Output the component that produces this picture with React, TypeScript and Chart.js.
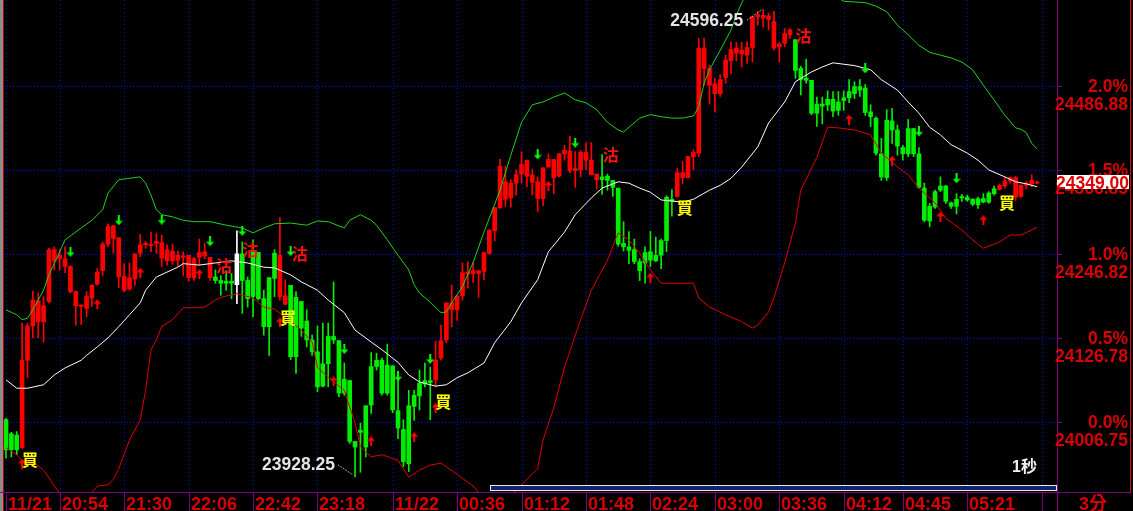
import React, { useEffect, useRef } from "react";
import { Chart, registerables } from "chart.js";

Chart.register(...registerables);

// ---- candles (3-minute bars, 11/21 20:24 -> 11/22 06:00) ----
const openP = [
  24010,23990,23988,23970,24095,24144,24150,24150,24179,24237,
  24240,24229,24193,24173,24172,24169,24184,24204,24223,24261,
  24269,24214,24195,24197,24211,24248,24260,24259,24262,24241,
  24237,24237,24238,24242,24213,24213,24242,24244,24213,24214,
  24209,24208,24208,24203,24247,24209,24252,24249,24183,24213,
  24248,24186,24175,24202,24185,24179,24151,24124,24107,24090,
  24129,24129,24123,24068,24066,23979,23995,24030,24086,24095,
  24095,24088,24087,24023,23996,24030,24045,24062,24066,24066,
  24067,24098,24124,24167,24167,24187,24218,24219,24219,24222,
  24248,24280,24313,24325,24327,24348,24361,24358,24349,24326,
  24326,24371,24356,24358,24390,24366,24366,24367,24381,24360,
  24353,24357,24358,24352,24341,24262,24257,24253,24236,24249,
  24250,24245,24266,24328,24325,24329,24356,24356,24386,24391,
  24512,24488,24476,24476,24499,24523,24534,24533,24531,24542,
  24586,24584,24582,24541,24543,24548,24560,24553,24512,24498,
  24495,24461,24461,24468,24468,24464,24470,24479,24486,24486,
  24484,24450,24441,24390,24438,24437,24424,24399,24426,24426,
  24390,24341,24315,24336,24344,24344,24320,24325,24329,24328,
  24325,24326,24326,24334,24340,24339,24344,24351,24328,24329,
  24345,24347,24348,
];
const highP = [
  24012,23992,23993,24148,24148,24194,24191,24186,24255,24257,
  24253,24257,24230,24194,24174,24193,24203,24226,24264,24290,
  24288,24270,24233,24234,24247,24275,24265,24278,24276,24274,
  24260,24261,24251,24250,24245,24242,24268,24262,24242,24224,
  24216,24223,24219,24280,24264,24214,24267,24249,24195,24213,
  24253,24299,24210,24202,24193,24179,24167,24131,24144,24148,
  24148,24207,24123,24091,24066,23979,24005,24030,24106,24105,
  24098,24118,24087,24079,24010,24052,24052,24081,24091,24085,
  24122,24145,24177,24202,24187,24234,24236,24235,24223,24249,
  24281,24313,24382,24372,24353,24367,24393,24381,24368,24357,
  24370,24390,24382,24390,24402,24415,24393,24395,24406,24406,
  24361,24389,24361,24352,24341,24293,24279,24268,24240,24257,
  24279,24271,24268,24330,24339,24369,24379,24386,24396,24555,
  24555,24517,24498,24503,24531,24550,24549,24549,24550,24586,
  24593,24596.25,24591,24594,24549,24569,24569,24553,24515,24525,
  24495,24471,24471,24480,24479,24479,24480,24496,24493,24496,
  24489,24460,24443,24412,24453,24455,24431,24402,24439,24426,
  24399,24348,24319,24338,24357,24345,24321,24333,24332,24331,
  24326,24328,24333,24336,24344,24347,24357,24357,24358,24346,
  24351,24360,24351,
];
const lowP = [
  23955,23957,23960,23969,24070,24127,24127,24121,24177,24224,
  24224,24220,24191,24145,24146,24157,24172,24202,24216,24257,
  24248,24199,24193,24195,24202,24243,24255,24250,24248,24229,
  24231,24232,24229,24216,24208,24209,24231,24240,24209,24205,
  24188,24195,24183,24176,24162,24171,24157,24181,24131,24102,
  24186,24181,24174,24096,24076,24129,24114,24102,24050,24057,
  24057,24119,24043,24045,23976,23928.25,23935,23957,24019,24081,
  24045,24045,24020,23983,23943,23936,24009,24024,24057,24010,
  24057,24095,24120,24143,24152,24181,24198,24206,24185,24210,
  24246,24266,24312,24315,24314,24331,24348,24343,24331,24307,
  24316,24371,24333,24357,24381,24363,24342,24357,24367,24360,
  24340,24332,24338,24329,24258,24251,24233,24233,24209,24205,
  24229,24236,24226,24250,24301,24328,24347,24355,24367,24386,
  24488,24461,24450,24472,24491,24504,24523,24514,24519,24521,
  24574,24571,24567,24538,24521,24543,24555,24498,24474,24491,
  24446,24429,24433,24452,24443,24445,24452,24463,24469,24472,
  24445,24429,24388,24352,24352,24405,24388,24381,24386,24386,
  24341,24293,24286,24312,24336,24319,24312,24304,24322,24322,
  24316,24312,24320,24319,24331,24338,24341,24348,24323,24328,
  24340,24343,24347,
];
const closeP = [
  23967,23967,23967,24095,24144,24181,24180,24173,24253,24253,
  24245,24240,24229,24193,24174,24186,24202,24221,24261,24286,
  24287,24270,24215,24213,24247,24260,24262,24261,24265,24263,
  24253,24251,24245,24244,24245,24240,24249,24250,24242,24209,
  24205,24205,24205,24247,24209,24183,24186,24183,24143,24143,
  24212,24245,24187,24100,24100,24141,24124,24107,24057,24058,
  24090,24124,24048,24048,23979,23971,23992,23971,24031,24086,
  24048,24048,24024,23998,23950,23947,24029,24044,24061,24063,
  24095,24123,24177,24177,24187,24220,24221,24223,24223,24249,
  24281,24313,24372,24350,24348,24360,24375,24381,24360,24350,
  24370,24382,24382,24390,24395,24394,24369,24392,24392,24381,
  24361,24353,24352,24342,24261,24257,24252,24236,24223,24234,
  24238,24237,24245,24266,24322,24363,24363,24386,24392,24541,
  24541,24512,24490,24496,24524,24539,24541,24538,24542,24586,
  24589,24588,24587,24579,24547,24562,24567,24509,24496,24495,
  24448,24448,24458,24460,24451,24452,24466,24470,24476,24481,
  24449,24443,24391,24357,24356,24424,24401,24390,24390,24390,
  24342,24295,24294,24314,24338,24322,24315,24315,24327,24324,
  24318,24317,24321,24321,24333,24345,24351,24356,24356,24345,
  24348,24352,24349,
];
const highlightBar = 43;
const lastPrice = 24349.0;

// ---- Bollinger bands (sampled bar index / value) ----
const upperIdx = [0,2,3,4,5,7,8,10,11,14,16,18,19,21,23,25,26,27,28,29,31,33,35,38,41,44,46,48,50,53,56,58,60,62,63,64,66,68,69,71,73,75,76,77,79,81,82,83,85,87,89,92,94,96,98,100,102,104,106,108,110,112,114,115,116,118,120,122,124,126,128,129,130,131,133,135,136,137,139,142,145,148,151,154,156,158,160,162,164,166,168,170,172,174,176,178,180,182,184,186,188,189,190,191,192];
const upperVal = [24167,24160,24153,24155,24167,24195,24217,24250,24267,24284,24295,24310,24334,24353,24355,24357,24348,24331,24310,24303,24300,24295,24293,24293,24288,24284,24277,24284,24290,24291,24288,24294,24293,24287,24284,24295,24303,24295,24288,24267,24245,24224,24203,24191,24178,24163,24164,24177,24200,24235,24278,24338,24388,24435,24460,24464,24471,24477,24467,24463,24453,24435,24424,24421,24428,24441,24446,24443,24441,24441,24444,24457,24491,24510,24538,24567,24588,24606,24631,24660,24674,24674,24653,24617,24608,24607,24606,24601,24593,24574,24560,24545,24535,24531,24527,24521,24510,24488,24467,24445,24427,24425,24420,24405,24397];
const midIdx = [0,2,4,7,9,11,14,15,17,19,21,23,25,26,28,30,32,33,36,39,42,45,48,50,53,55,58,60,63,65,68,70,73,75,77,80,82,84,86,89,91,94,96,99,101,104,106,109,111,114,116,118,120,122,126,128,131,133,135,137,140,142,145,147,150,152,154,156,158,161,163,166,168,170,172,174,176,179,181,183,186,188,190,192];
const midVal = [24067,24055,24055,24060,24074,24084,24095,24102,24114,24127,24143,24160,24177,24195,24214,24221,24228,24233,24231,24234,24237,24234,24228,24227,24217,24207,24195,24181,24163,24138,24121,24110,24092,24074,24064,24058,24060,24070,24077,24091,24120,24150,24177,24210,24250,24278,24303,24327,24341,24350,24348,24341,24335,24324,24321,24325,24338,24345,24355,24371,24400,24434,24464,24493,24507,24514,24520,24518,24516,24510,24496,24481,24464,24448,24428,24417,24403,24391,24381,24367,24357,24350,24347,24343];
const lowerIdx = [0,2,3,5,7,8,9,11,14,17,19,20,21,23,25,26,27,28,29,31,33,36,37,39,40,43,46,48,50,53,55,57,58,60,63,65,66,68,70,73,75,77,79,81,84,87,90,93,96,99,100,102,104,107,109,112,114,116,118,120,122,128,129,131,134,137,139,140,142,143,145,147,148,151,153,155,158,161,163,166,168,170,173,175,178,180,182,185,187,189,191,192];
const lowerVal = [23970,23960,23951,23950,23938,23927,23915,23895,23888,23915,23917,23925,23940,23981,24010,24052,24110,24124,24143,24153,24170,24170,24171,24181,24185,24190,24184,24171,24168,24150,24138,24121,24085,24071,24052,24005,23971,23957,23960,23952,23928,23938,23945,23948,23932,23915,23888,23895,23917,23940,23981,24027,24085,24153,24195,24238,24277,24267,24248,24224,24205,24205,24184,24171,24160,24150,24141,24145,24164,24184,24234,24291,24338,24385,24428,24427,24424,24417,24391,24371,24360,24341,24320,24298,24281,24267,24255,24264,24274,24274,24281,24285];

// ---- signals ----
const upArrowIdx = [3,17,25,36,51,61,68,76,80,101,120,157,165,174,182];
const upArrowVal = [23947,24175,24220,24218,24149,24065,23979,23985,24027,24344,24213,24439,24380,24300,24295];
const downArrowIdx = [12,21,29,38,44,53,63,73,79,99,106,160,170,177];
const downArrowVal = [24250,24295,24296,24265,24280,24251,24111,24072,24097,24389,24406,24512,24422,24355];
const buyX = [4.47,52.5,81.4,126.4,186.4];
const buyY = [23952,24155,24035,24313,24320];
const sellX = [40.6,45.5,54.7,112.6,148.5];
const sellY = [24230,24253,24247,24388,24559];
const extremeIdx = [141, 65];
const extremeVal = [24596.25, 23928.25];

// ---- axes ----
const timeLabels = ["11/21","20:54","21:30","22:06","22:42","23:18","11/22","00:36","01:12","01:48","02:24","03:00","03:36","04:12","04:45","05:21",""];
const timeIdx = [0,10,22,34,46,58,72,84,96,108,120,132,144,156,167,179,193];
const tickValues = [24006.75,24126.78,24246.82,24366.85,24486.88];
const pctLabels = ["0.0%","0.5%","1.0%","1.5%","2.0%"];
const priceLabels = ["24006.75","24126.78","24246.82","24366.85","24486.88"];

const X_MIN = -1.117, X_MAX = 195.71;
const Y_MIN = 23906.72, Y_MAX = 24609.77;

const RED = "#ff0000";
const GREEN = "#00ee00";
const AXIS_RED = "#d80000";
const PURPLE = "#800080";
const NUM_FONT = '"Liberation Sans", Arial, "Noto Sans CJK TC", sans-serif';
const CJK_FONT = '"Noto Sans CJK TC", "Noto Sans CJK SC", sans-serif';

function makeArrow(color: string, up: boolean) {
  const c = document.createElement("canvas");
  c.width = 8; c.height = 10;
  const g = c.getContext("2d")!;
  g.fillStyle = color;
  g.beginPath();
  if (up) {
    g.moveTo(4, 0); g.lineTo(8, 4.5); g.lineTo(0, 4.5); g.closePath(); g.fill();
    g.fillRect(3, 4, 2, 6);
  } else {
    g.moveTo(0, 5.5); g.lineTo(8, 5.5); g.lineTo(4, 10); g.closePath(); g.fill();
    g.fillRect(3, 0, 2, 6);
  }
  return c;
}

const framePlugin = {
  id: "frame",
  beforeDraw(chart: any) {
    const { ctx, chartArea: a } = chart;
    const xs = chart.scales.x, ys = chart.scales.y;
    ctx.save();
    ctx.fillStyle = "#000";
    ctx.fillRect(0, 0, chart.width, chart.height);
    ctx.strokeStyle = "#0000e6";
    ctx.lineWidth = 1;
    ctx.setLineDash([1, 2]);
    for (const v of tickValues) {
      const py = Math.round(ys.getPixelForValue(v)) + 0.5;
      ctx.beginPath(); ctx.moveTo(4, py); ctx.lineTo(a.right, py); ctx.stroke();
    }
    ctx.setLineDash([1, 3]);
    for (const i of timeIdx) {
      const px = Math.round(xs.getPixelForValue(i)) + 0.5;
      ctx.beginPath(); ctx.moveTo(px, a.top); ctx.lineTo(px, a.bottom); ctx.stroke();
    }
    ctx.restore();
  },
  afterDatasetsDraw(chart: any) {
    const { ctx, chartArea: a } = chart;
    const xs = chart.scales.x, ys = chart.scales.y;
    const W = chart.width, H = chart.height;
    ctx.save();

    // buy / sell signal texts
    ctx.textAlign = "center";
    ctx.textBaseline = "middle";
    ctx.font = `bold 16px ${CJK_FONT}`;
    buyX.forEach((bx, k) => {
      ctx.fillStyle = "#ffff00";
      ctx.fillText("買", xs.getPixelForValue(bx), ys.getPixelForValue(buyY[k]));
    });
    sellX.forEach((sx, k) => {
      ctx.fillStyle = "#ff1010";
      ctx.fillText("沽", xs.getPixelForValue(sx), ys.getPixelForValue(sellY[k]));
    });

    // high / low annotations
    ctx.font = `bold 17.5px ${NUM_FONT}`;
    ctx.textAlign = "right";
    ctx.textBaseline = "alphabetic";
    extremeIdx.forEach((ei, k) => {
      const px = xs.getPixelForValue(ei);
      const py = ys.getPixelForValue(extremeVal[k]);
      const isHigh = k === 0;
      ctx.fillStyle = "#e4e4e4";
      ctx.fillText(extremeVal[k].toFixed(2), px - 20, isHigh ? py + 17 : py - 7);
      ctx.strokeStyle = "#dddddd";
      ctx.lineWidth = 1;
      ctx.setLineDash([1, 1]);
      ctx.beginPath();
      if (isHigh) { ctx.moveTo(px - 16, py + 10.5); ctx.lineTo(px - 1, py); }
      else { ctx.moveTo(px - 17, py - 12); ctx.lineTo(px - 2, py - 2); }
      ctx.stroke();
      ctx.setLineDash([]);
    });

    // period tag
    ctx.font = `bold 16px ${NUM_FONT}`;
    ctx.textAlign = "left";
    ctx.fillStyle = "#f0f0f0";
    ctx.fillText("1秒", a.right - 45, a.bottom - 20);

    // scrollbar
    ctx.fillStyle = "#14246a";
    ctx.fillRect(490, a.bottom - 6, a.right - 491, 5);
    ctx.strokeStyle = "#e8e8e8";
    ctx.lineWidth = 1;
    ctx.strokeRect(490.5, a.bottom - 6.5, a.right - 491, 5);

    // left edge
    ctx.fillStyle = "#8c8c8c";
    ctx.fillRect(0, 0, 3, H);
    ctx.fillStyle = "#b00000";
    ctx.fillRect(3, 0, 1, H);

    // frame lines
    ctx.strokeStyle = PURPLE;
    ctx.beginPath();
    ctx.moveTo(0, a.bottom + 0.5); ctx.lineTo(W - 2, a.bottom + 0.5);
    ctx.moveTo(a.right + 0.5, 0); ctx.lineTo(a.right + 0.5, H);
    for (const v of tickValues) {
      const py = Math.round(ys.getPixelForValue(v)) + 0.5;
      ctx.moveTo(a.right, py); ctx.lineTo(a.right + 5, py);
    }
    for (const i of timeIdx) {
      const px = Math.round(xs.getPixelForValue(i)) + 0.5;
      ctx.moveTo(px, a.bottom); ctx.lineTo(px, H);
    }
    ctx.stroke();
    ctx.strokeStyle = "#e00000";
    ctx.beginPath();
    ctx.moveTo(W - 2.5, 0); ctx.lineTo(W - 2.5, a.bottom);
    ctx.stroke();

    // right axis labels
    ctx.font = `bold 17.5px ${NUM_FONT}`;
    ctx.textAlign = "right";
    ctx.fillStyle = AXIS_RED;
    tickValues.forEach((v, k) => {
      const py = Math.round(ys.getPixelForValue(v));
      ctx.fillText(pctLabels[k], W - 5, py + 6);
      ctx.fillText(priceLabels[k], W - 5, py + 24);
    });

    // last price box
    const lp = ys.getPixelForValue(lastPrice);
    ctx.fillStyle = "#ffffff";
    ctx.fillRect(a.right, Math.round(lp) - 7, 72, 14);
    ctx.fillStyle = "#e00000";
    ctx.fillText(lastPrice.toFixed(2), a.right + 72, Math.round(lp) + 6.5);

    // time labels
    ctx.font = `bold 18px ${NUM_FONT}`;
    ctx.textAlign = "left";
    ctx.fillStyle = AXIS_RED;
    timeIdx.forEach((i, k) => {
      const px = Math.round(xs.getPixelForValue(i));
      ctx.fillText(timeLabels[k], px + 2, H - 1);
    });
    ctx.textAlign = "center";
    ctx.fillText("3分", (a.right + W) / 2 - 2, H - 1);

    ctx.restore();
  },
};

export default function App() {
  const ref = useRef<HTMLCanvasElement>(null);
  useEffect(() => {
    document.body.style.margin = "0";
    document.body.style.background = "#000";
    const canvas = ref.current!;
    const upImg = makeArrow("#ff0000", true);
    const downImg = makeArrow("#00ff00", false);
    const idx = openP.map((_, i) => i);
    const colorOf = (i: number) =>
      i === highlightBar ? "#ffffff" : closeP[i] >= openP[i] ? RED : GREEN;
    const chart = new Chart(canvas, {
      type: "bar",
      data: {
        datasets: [
          {
            type: "scatter",
            data: upArrowIdx.map((x, k) => ({ x, y: upArrowVal[k] })),
            pointStyle: upImg as any,
            pointRadius: 4,
            order: 0,
          } as any,
          {
            type: "scatter",
            data: downArrowIdx.map((x, k) => ({ x, y: downArrowVal[k] })),
            pointStyle: downImg as any,
            pointRadius: 4,
            order: 0,
          } as any,
          {
            type: "line",
            data: upperIdx.map((x, k) => ({ x, y: upperVal[k] })),
            borderColor: "#1ed21e",
            borderWidth: 1,
            pointRadius: 0,
            tension: 0,
            order: 1,
          } as any,
          {
            type: "line",
            data: midIdx.map((x, k) => ({ x, y: midVal[k] })),
            borderColor: "#ffffff",
            borderWidth: 1,
            pointRadius: 0,
            tension: 0,
            order: 1,
          } as any,
          {
            type: "line",
            data: lowerIdx.map((x, k) => ({ x, y: lowerVal[k] })),
            borderColor: "#e00000",
            borderWidth: 1,
            pointRadius: 0,
            tension: 0,
            order: 1,
          } as any,
          {
            type: "bar",
            data: idx.map((i) => ({ x: i, y: [openP[i], closeP[i]] })),
            backgroundColor: idx.map(colorOf),
            borderWidth: 0,
            barThickness: 4,
            grouped: false,
            minBarLength: 1,
            order: 2,
          } as any,
          {
            type: "bar",
            data: idx.map((i) => ({ x: i, y: [lowP[i], highP[i]] })),
            backgroundColor: idx.map(colorOf),
            borderWidth: 0,
            barThickness: 1,
            grouped: false,
            minBarLength: 1,
            order: 3,
          } as any,
        ],
      },
      options: {
        responsive: false,
        maintainAspectRatio: false,
        animation: false,
        devicePixelRatio: 1,
        events: [],
        layout: { autoPadding: false, padding: { left: 0, right: 76, top: 0, bottom: 19 } },
        plugins: { legend: { display: false }, tooltip: { enabled: false } },
        scales: {
          x: { type: "linear", min: X_MIN, max: X_MAX, display: false, offset: false },
          y: { type: "linear", min: Y_MIN, max: Y_MAX, display: false },
        },
      } as any,
      plugins: [framePlugin],
    });
    return () => chart.destroy();
  }, []);
  return (
    <div
      style={{
        position: "fixed",
        left: 0,
        top: 0,
        width: 1133,
        height: 511,
        background: "#000",
        overflow: "hidden",
      }}
    >
      <canvas ref={ref} width={1133} height={511} style={{ display: "block", width: 1133, height: 511 }} />
    </div>
  );
}
